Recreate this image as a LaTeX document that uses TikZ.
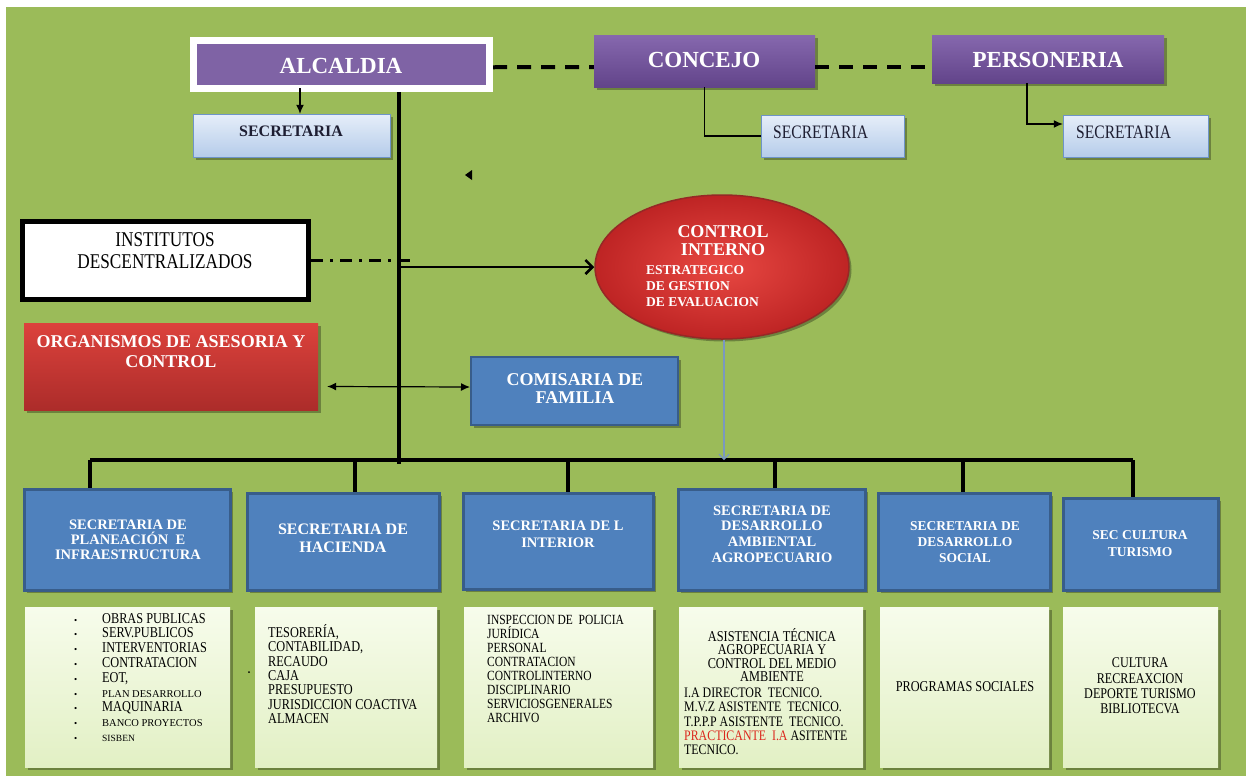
\documentclass[tikz,border=0pt]{standalone}
\usepackage{fontspec}
\setmainfont{Liberation Serif}
\newfontfamily\narrowserif{Liberation Serif}[FakeStretch=0.82]
\usetikzlibrary{shapes.geometric,shadows,arrows.meta}

\definecolor{leaf}{RGB}{155,187,89}
\definecolor{plumtop}{RGB}{134,104,174}
\definecolor{plumbot}{RGB}{98,68,138}
\definecolor{plum}{RGB}{127,99,165}
\definecolor{steel}{RGB}{79,129,189}
\definecolor{steeldark}{RGB}{56,93,138}
\definecolor{skytop}{RGB}{230,238,249}
\definecolor{skybot}{RGB}{181,204,234}
\definecolor{skyline}{RGB}{110,148,200}
\definecolor{navytxt}{RGB}{30,30,50}
\definecolor{bricktop}{RGB}{220,66,60}
\definecolor{brickbot}{RGB}{172,44,42}
\definecolor{brickin}{RGB}{232,72,66}
\definecolor{brickout}{RGB}{190,36,36}
\definecolor{brickline}{RGB}{150,40,38}
\definecolor{creamtop}{RGB}{247,252,236}
\definecolor{creambot}{RGB}{226,240,196}
\definecolor{redtxt}{RGB}{220,40,30}
\definecolor{arrowblue}{RGB}{122,152,192}

\newcommand{\fsz}[2]{\fontsize{#1}{#2}\selectfont}
\newcommand{\dotitem}{\makebox[28pt][l]{\rmfamily\fsz{9}{9}\textbullet}}
\newcommand{\smallitem}[1]{{\rmfamily\fsz{10.5}{10}#1}}

\begin{document}
\begin{tikzpicture}[x=1pt,y=-1pt,>={Latex[length=9pt,width=8pt]},
    boxshadow/.style={drop shadow={shadow xshift=2.5pt,shadow yshift=-2.5pt,opacity=.3,fill=black}},
    headbox/.style={rectangle,inner sep=0pt,top color=plumtop,bottom color=plumbot,boxshadow},
    secbox/.style={rectangle,inner sep=0pt,draw=skyline,top color=skytop,bottom color=skybot,boxshadow},
    deptbox/.style={rectangle,inner sep=0pt,draw=steeldark,line width=3pt,fill=steel,boxshadow},
    listbox/.style={rectangle,inner sep=0pt,top color=creamtop,bottom color=creambot,boxshadow},
    headtxt/.style={text=white,inner sep=0pt,font=\fsz{23}{26}\bfseries},
    depttxt/.style={text=white,align=center,inner sep=0pt},
    listtxt/.style={align=left,inner sep=0pt,anchor=north west},
    trunk/.style={line width=4pt},
    toplink/.style={line width=4pt,dash pattern=on 14pt off 10pt}]

  % frame
  \useasboundingbox (0,0) rectangle (1251,780);
  \fill[white] (0,0) rectangle (1251,780);
  \fill[leaf] (6,7) rectangle (1246,776);

  % top row
  \node[rectangle,inner sep=0pt,fill=plum,draw=white,line width=7pt,boxshadow,
        minimum width=296pt,minimum height=48.5pt] (alcaldia) at (341.5,64.25) {};
  \node[headbox,minimum width=221pt,minimum height=52pt] (concejo) at (704.5,61) {};
  \node[headbox,minimum width=232pt,minimum height=48pt] (personeria) at (1048,59) {};
  \node[headtxt] (alcaldia-t) at (341,65.5) {ALCALDIA};
  \node[headtxt] (concejo-t) at (704,60) {CONCEJO};
  \node[headtxt] (personeria-t) at (1048,60) {PERSONERIA};

  \node[secbox,minimum width=197pt,minimum height=43pt] (secalc) at (291.5,135.5) {};
  \node[secbox,minimum width=143pt,minimum height=42pt] (seccon) at (832.5,136) {};
  \node[secbox,minimum width=145pt,minimum height=42pt] (secper) at (1135.5,136) {};
  \node[inner sep=0pt,text=navytxt,font=\fsz{16}{18}\bfseries] (secalc-t) at (291,131.5) {SECRETARIA};
  \node[inner sep=0pt,anchor=west,text=navytxt,font=\narrowserif\fsz{19}{18}] (seccon-t) at (773,132) {SECRETARIA};
  \node[inner sep=0pt,anchor=west,text=navytxt,font=\narrowserif\fsz{19}{18}] (secper-t) at (1076,132) {SECRETARIA};

  % middle
  \node[rectangle,inner sep=0pt,fill=white,draw=black,line width=5pt,
        minimum width=286pt,minimum height=78pt] (institutos) at (165.5,260.5) {};
  \node[align=center,inner sep=0pt,font=\narrowserif\fsz{21}{22}] (institutos-t) at (165,251)
    {INSTITUTOS\\DESCENTRALIZADOS};
  \node[rectangle,inner sep=0pt,top color=bricktop,bottom color=brickbot,boxshadow,
        minimum width=294pt,minimum height=87pt] (organismos) at (171,366.5) {};
  \node[depttxt,font=\fsz{18}{20}\bfseries] (organismos-t) at (171,352)
    {ORGANISMOS DE ASESORIA Y\\CONTROL};
  \node[deptbox,line width=2pt,minimum width=207pt,minimum height=68pt] (comisaria) at (574.5,391) {};
  \node[depttxt,font=\fsz{18}{17.5}\bfseries] (comisaria-t) at (575,388.5) {COMISARIA DE\\FAMILIA};
  \node[ellipse,inner sep=0pt,draw=brickline,line width=1.5pt,inner color=brickin,outer color=brickout,
        boxshadow,minimum width=254pt,minimum height=144pt] (ctrl) at (722,267) {};
  \node[depttxt,font=\fsz{18}{18}\bfseries] (ctrl-t) at (723,241) {CONTROL\\INTERNO};
  \node[listtxt,text=white,font=\fsz{13.5}{16}\bfseries] (ctrl-l) at (646,265)
    {ESTRATEGICO\\DE GESTION\\DE EVALUACION};

  % secretarias
  \node[deptbox,minimum width=206pt,minimum height=101pt] (sec1) at (127.5,540) {};
  \node[deptbox,minimum width=192pt,minimum height=97pt] (sec2) at (343.5,542) {};
  \node[deptbox,minimum width=190pt,minimum height=96pt] (sec3) at (558.5,541.5) {};
  \node[deptbox,minimum width=187pt,minimum height=101pt] (sec4) at (772,540) {};
  \node[deptbox,minimum width=172pt,minimum height=97pt] (sec5) at (964.5,542) {};
  \node[deptbox,minimum width=155pt,minimum height=92pt] (sec6) at (1141,544.5) {};
  \node[depttxt,font=\fsz{14.5}{15}\bfseries] (sec1-t) at (128,540)
    {SECRETARIA DE\\PLANEACIÓN~~E\\INFRAESTRUCTURA};
  \node[depttxt,font=\fsz{16}{18}\bfseries] (sec2-t) at (343,538) {SECRETARIA DE\\HACIENDA};
  \node[depttxt,font=\fsz{14.5}{17}\bfseries] (sec3-t) at (558,534) {SECRETARIA DE L\\INTERIOR};
  \node[depttxt,font=\fsz{14.5}{15.7}\bfseries] (sec4-t) at (772,534)
    {SECRETARIA DE\\DESARROLLO\\AMBIENTAL\\AGROPECUARIO};
  \node[depttxt,font=\fsz{13.5}{16}\bfseries] (sec5-t) at (965,542)
    {SECRETARIA DE\\DESARROLLO\\SOCIAL};
  \node[depttxt,font=\fsz{13.5}{17}\bfseries] (sec6-t) at (1140,544) {SEC CULTURA\\TURISMO};

  % dependencias
  \node[listbox,minimum width=205pt,minimum height=160pt] (list1) at (127.5,687) {};
  \node[listbox,minimum width=182pt,minimum height=160pt] (list2) at (346,687) {};
  \node[listbox,minimum width=189pt,minimum height=160pt] (list3) at (558.5,687) {};
  \node[listbox,minimum width=184pt,minimum height=160pt] (list4) at (771,687) {};
  \node[listbox,minimum width=169pt,minimum height=160pt] (list5) at (964.5,687) {};
  \node[listbox,minimum width=155pt,minimum height=160pt] (list6) at (1140.5,687) {};

  \node[listtxt,font=\narrowserif\fsz{15}{14.8}] (list1-t) at (74,613)
    {\dotitem OBRAS PUBLICAS\\
     \dotitem SERV.PUBLICOS\\
     \dotitem INTERVENTORIAS\\
     \dotitem CONTRATACION\\
     \dotitem EOT,\\
     \dotitem \smallitem{PLAN DESARROLLO}\\
     \dotitem MAQUINARIA\\
     \dotitem \smallitem{BANCO PROYECTOS}\\
     \dotitem {\rmfamily\fsz{9.5}{10}SISBEN}};
  \node[listtxt,font=\narrowserif\fsz{15}{14.3}] (list2-t) at (268,624.5)
    {TESORERÍA,\\CONTABILIDAD,\\RECAUDO\\CAJA\\PRESUPUESTO\\JURISDICCION COACTIVA\\ALMACEN};
  \node[listtxt,font=\narrowserif\fsz{14}{14}] (list3-t) at (487,615.5)
    {INSPECCION DE~~POLICIA\\JURÍDICA\\PERSONAL\\CONTRATACION\\CONTROLINTERNO\\DISCIPLINARIO\\SERVICIOSGENERALES\\ARCHIVO};
  \node[align=center,inner sep=0pt,anchor=north,font=\narrowserif\fsz{15}{13.4}] (list4-t) at (772,628.5)
    {ASISTENCIA TÉCNICA\\AGROPECUARIA Y\\CONTROL DEL MEDIO\\AMBIENTE};
  \node[listtxt,font=\narrowserif\fsz{14.5}{14.1}] (list4-l) at (684,688)
    {I.A DIRECTOR~~TECNICO.\\M.V.Z ASISTENTE~~TECNICO.\\T.P.P.P ASISTENTE~~TECNICO.\\
     \textcolor{redtxt}{PRACTICANTE~~I.A} ASITENTE\\TECNICO.};
  \node[inner sep=0pt,font=\narrowserif\fsz{15}{14}] (list5-t) at (965,687) {PROGRAMAS SOCIALES};
  \node[align=center,inner sep=0pt,font=\narrowserif\fsz{14.8}{15.3}] (list6-t) at (1140,686)
    {CULTURA\\RECREAXCION\\DEPORTE TURISMO\\BIBLIOTECVA};

  % bus
  \coordinate (b1) at (90,460);
  \coordinate (b2) at (355,460);
  \coordinate (b3) at (568,460);
  \coordinate (b4) at (775,460);
  \coordinate (b5) at (963,460);
  \coordinate (b6) at (1133,460);
  \coordinate (hub) at (399,464);
  \coordinate (inst-end) at (412,260.5);

  \draw[trunk] (b1) -- (b6);
  \draw[trunk] (b1) -- (sec1.north -| b1);
  \draw[trunk] (b2) -- (sec2.north -| b2);
  \draw[trunk] (b3) -- (sec3.north -| b3);
  \draw[trunk] (b4) -- (sec4.north -| b4);
  \draw[trunk] (b5) -- (sec5.north -| b5);
  \draw[trunk] (b6) -- (sec6.north -| b6);
  \draw[trunk] (alcaldia.south -| hub) -- (hub);

  % links
  \draw[toplink] ([yshift=-3pt]alcaldia.east) -- ([yshift=-6pt]concejo.west);
  \draw[toplink] ([yshift=-6pt]concejo.east) -- ([yshift=-8pt]personeria.west);
  \draw[->,line width=1.2pt] ([xshift=8.5pt,yshift=4pt]alcaldia.south -| secalc.north) -- ([xshift=8.5pt]secalc.north);
  \draw[line width=1.2pt] (concejo.south) |- (seccon.west);
  \draw[->,line width=1.2pt] ([xshift=-21pt]personeria.south) |- ([yshift=12pt]secper.west);
  \draw[line width=3.5pt,dash pattern=on 12pt off 7pt on 3pt off 7pt] (institutos.east) -- (inst-end);
  \draw[-{Straight Barb[length=7pt,width=14pt]},line width=2.5pt] (ctrl.west -| hub) -- (ctrl.west);
  \draw[<->,line width=1.2pt] ([shift={(9pt,-20pt)}]organismos.east) -- ([yshift=4pt]comisaria.west);
  \draw[-{Straight Barb[length=5pt,width=10pt]},arrowblue,line width=1.2pt] ([xshift=2pt]ctrl.south) -- ([xshift=2pt]ctrl.south |- b1);

  % stray marks
  \fill (465,175) -- (472,170) -- (472,180) -- cycle;
  \fill (249,672) circle (1);
\end{tikzpicture}
\end{document}
